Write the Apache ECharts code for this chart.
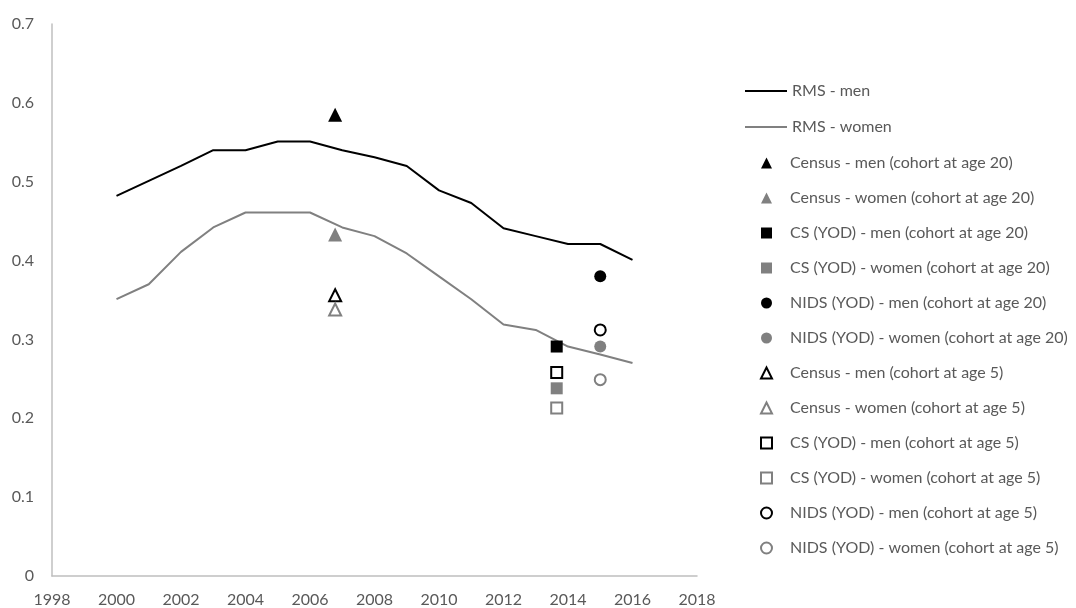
<!DOCTYPE html>
<html>
<head>
<meta charset="utf-8">
<script src="https://cdn.jsdelivr.net/npm/echarts@6/dist/echarts.min.js"></script>
<style>
  html, body { margin: 0; padding: 0; background: #ffffff; }
  #chart { width: 1076px; height: 608px; }
</style>
</head>
<body>
<div id="chart"></div>
<script>
// RMS yearly estimates
const years = [2000, 2001, 2002, 2003, 2004, 2005, 2006, 2007, 2008, 2009, 2010, 2011, 2012, 2013, 2014, 2015, 2016];
const rmsMen = [0.482, 0.501, 0.520, 0.540, 0.540, 0.551, 0.551, 0.540, 0.531, 0.520, 0.489, 0.473, 0.441, 0.431, 0.421, 0.421, 0.401];
const rmsWomen = [0.351, 0.370, 0.411, 0.442, 0.461, 0.461, 0.461, 0.442, 0.431, 0.409, 0.380, 0.351, 0.319, 0.312, 0.291, 0.281, 0.270];

// Survey / census point estimates: [year, value]
const censusYear = 2006.78;
const csYear = 2013.65;
const nidsYear = 2015.0;
const censusMen20 = [[censusYear, 0.585]];
const censusWomen20 = [[censusYear, 0.433]];
const csMen20 = [[csYear, 0.291]];
const csWomen20 = [[csYear, 0.238]];
const nidsMen20 = [[nidsYear, 0.380]];
const nidsWomen20 = [[nidsYear, 0.291]];
const censusMen5 = [[censusYear, 0.356]];
const censusWomen5 = [[censusYear, 0.338]];
const csMen5 = [[csYear, 0.258]];
const csWomen5 = [[csYear, 0.213]];
const nidsMen5 = [[nidsYear, 0.312]];
const nidsWomen5 = [[nidsYear, 0.249]];

const xTicks = { min: 1998, max: 2018, interval: 2 };
const yTicks = { min: 0, max: 0.7, interval: 0.1 };

const BLACK = '#000000';
const GREY = '#808080';
const TEXT = '#595959';
const AXIS = '#bfbfbf';
const FONT = 'Lato, "Open Sans", sans-serif';

function lineSeries(name, values, color) {
  return {
    name, type: 'line', data: years.map((y, i) => [y, values[i]]),
    symbol: 'none', lineStyle: { color, width: 2 }, itemStyle: { color },
    z: 2
  };
}
function pointSeries(name, data, symbol, color, hollow) {
  const size = symbol === 'triangle' ? (hollow ? 12 : 14) : (hollow ? 11 : 12);
  return {
    name, type: 'scatter', data, symbol, symbolSize: size,
    itemStyle: hollow
      ? { color: '#ffffff', borderColor: color, borderWidth: 2, opacity: 1 }
      : { color, borderWidth: 0, opacity: 1 },
    z: 3
  };
}

const lines = [
  lineSeries('RMS - men', rmsMen, BLACK),
  lineSeries('RMS - women', rmsWomen, GREY)
];
const points = [
  pointSeries('Census - men (cohort at age 20)', censusMen20, 'triangle', BLACK, false),
  pointSeries('Census - women (cohort at age 20)', censusWomen20, 'triangle', GREY, false),
  pointSeries('CS (YOD) - men (cohort at age 20)', csMen20, 'rect', BLACK, false),
  pointSeries('CS (YOD) - women (cohort at age 20)', csWomen20, 'rect', GREY, false),
  pointSeries('NIDS (YOD) - men (cohort at age 20)', nidsMen20, 'circle', BLACK, false),
  pointSeries('NIDS (YOD) - women (cohort at age 20)', nidsWomen20, 'circle', GREY, false),
  pointSeries('Census - men (cohort at age 5)', censusMen5, 'triangle', BLACK, true),
  pointSeries('Census - women (cohort at age 5)', censusWomen5, 'triangle', GREY, true),
  pointSeries('CS (YOD) - men (cohort at age 5)', csMen5, 'rect', BLACK, true),
  pointSeries('CS (YOD) - women (cohort at age 5)', csWomen5, 'rect', GREY, true),
  pointSeries('NIDS (YOD) - men (cohort at age 5)', nidsMen5, 'circle', BLACK, true),
  pointSeries('NIDS (YOD) - women (cohort at age 5)', nidsWomen5, 'circle', GREY, true)
];

const legendText = { color: TEXT, fontFamily: FONT, fontSize: 16 };

const chart = echarts.init(document.getElementById('chart'), null, { renderer: 'canvas' });
chart.setOption({
  animation: false,
  backgroundColor: '#ffffff',
  grid: { left: 52, right: 379, top: 24, bottom: 32, containLabel: false },
  xAxis: {
    type: 'value', min: xTicks.min, max: xTicks.max, interval: xTicks.interval,
    axisLine: { show: true, lineStyle: { color: AXIS, width: 1.5 } },
    axisTick: { show: false },
    splitLine: { show: false },
    axisLabel: { color: TEXT, fontFamily: FONT, fontSize: 16, margin: 16, formatter: v => String(v) }
  },
  yAxis: {
    type: 'value', min: yTicks.min, max: yTicks.max, interval: yTicks.interval,
    axisLine: { show: true, lineStyle: { color: AXIS, width: 1.5 } },
    axisTick: { show: false },
    splitLine: { show: false },
    axisLabel: {
      color: TEXT, fontFamily: FONT, fontSize: 16, margin: 18,
      formatter: v => String(+v.toFixed(1))
    }
  },
  legend: [
    {
      orient: 'vertical', left: 740, top: 78,
      itemWidth: 42, itemHeight: 2, itemGap: 20, icon: 'rect',
      textStyle: legendText,
      data: lines.map(s => s.name)
    },
    {
      orient: 'vertical', left: 755, top: 150,
      itemWidth: 11, itemHeight: 11, itemGap: 19,
      textStyle: Object.assign({ padding: [0, 0, 0, 13] }, legendText),
      data: points.map(s => s.name)
    }
  ],
  series: lines.concat(points)
});
</script>
</body>
</html>
